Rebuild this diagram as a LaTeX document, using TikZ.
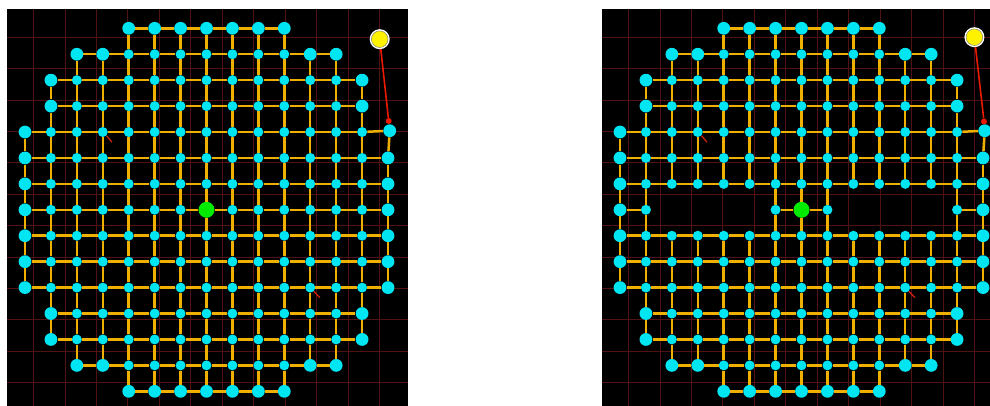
\documentclass[tikz,border=0pt]{standalone}
\usetikzlibrary{calc}
\definecolor{nodecyan}{RGB}{0,229,242}
\definecolor{edgeorange}{RGB}{240,176,0}
\definecolor{gridred}{RGB}{80,18,18}
\definecolor{centergreen}{RGB}{0,235,0}
\definecolor{cursoryellow}{RGB}{255,242,0}
\definecolor{springred}{RGB}{235,25,0}
\definecolor{tickred}{RGB}{205,35,10}
\pgfdeclarelayer{bg}
\pgfdeclarelayer{edges}
\pgfsetlayers{bg,edges,main}
\def\padrows{{99,4,2,1,1,0,0,0,0,0,0,0,1,1,2,4,99}}
\def\holeexpr#1#2#3{(((#3)==1)&&((#2)==7)&&((((#1)>=2)&&((#1)<=5))||(((#1)>=9)&&((#1)<=12))))}
\newcommand\latticenodes[3]{%
 \foreach \j in {0,...,14}{%
   \pgfmathtruncatemacro\jo{\j}%
   \pgfmathtruncatemacro\jp{\j+1}%
   \pgfmathtruncatemacro\jq{\j+2}%
   \pgfmathtruncatemacro\mn{\padrows[\jp]}%
   \pgfmathtruncatemacro\mup{\padrows[\jo]}%
   \pgfmathtruncatemacro\mdn{\padrows[\jq]}%
   \pgfmathtruncatemacro\mx{14-\mn}%
   \foreach \i in {\mn,...,\mx}{%
     \pgfmathtruncatemacro\dd{min(\i,14-\i)}%
     \pgfmathtruncatemacro\isbig{(\dd==\mn)||(\mup>\dd)||(\mdn>\dd)}%
     \pgfmathtruncatemacro\ishole{\holeexpr{\i}{\j}{#3}}%
     \pgfmathtruncatemacro\iscenter{(\i==7)&&(\j==7)}%
     \pgfmathtruncatemacro\isdrag{(\i==14)&&(\j==4)}%
     \pgfmathsetmacro\px{#2+25+25.93*\i+1.7*\isdrag}%
     \pgfmathsetmacro\py{28.3+25.93*\j-1.3*\isdrag}%
     \ifnum\ishole=0
       \ifnum\iscenter=1
         \node[centernode] (#1-\i-\j) at (\px,\py) {};
       \else\ifnum\isbig=1
         \node[bignode] (#1-\i-\j) at (\px,\py) {};
       \else
         \node[smallnode] (#1-\i-\j) at (\px,\py) {};
       \fi\fi
     \fi
   }%
 }%
}
\newcommand\latticeedges[2]{%
 \foreach \j in {0,...,14}{%
   \pgfmathtruncatemacro\jp{\j+1}%
   \pgfmathtruncatemacro\jq{\j+2}%
   \pgfmathtruncatemacro\mn{\padrows[\jp]}%
   \pgfmathtruncatemacro\mx{13-\mn}%
   \foreach \i in {\mn,...,\mx}{%
     \pgfmathtruncatemacro\inext{\i+1}%
     \pgfmathtruncatemacro\skipit{\holeexpr{\i}{\j}{#2}||\holeexpr{\inext}{\j}{#2}}%
     \ifnum\skipit=0 \draw[edge] (#1-\i-\j) -- (#1-\inext-\j); \fi
   }%
   \ifnum\j<14
     \pgfmathtruncatemacro\ma{\padrows[\jp]}%
     \pgfmathtruncatemacro\mb{\padrows[\jq]}%
     \pgfmathtruncatemacro\mv{max(\ma,\mb)}%
     \pgfmathtruncatemacro\mw{14-\mv}%
     \pgfmathtruncatemacro\nj{\j+1}%
     \foreach \i in {\mv,...,\mw}{%
       \pgfmathtruncatemacro\skipit{\holeexpr{\i}{\j}{#2}||\holeexpr{\i}{\nj}{#2}}%
       \ifnum\skipit=0 \draw[edge] (#1-\i-\j) -- (#1-\i-\nj); \fi
     }%
   \fi
 }%
}
\begin{document}
\begin{tikzpicture}[x=1pt,y=-1pt,
  smallnode/.style={circle,fill=nodecyan,inner sep=0pt,minimum size=10pt},
  bignode/.style={circle,fill=nodecyan,inner sep=0pt,minimum size=12.8pt},
  centernode/.style={circle,fill=centergreen,inner sep=0pt,minimum size=16pt},
  edge/.style={draw=edgeorange,line width=2.5pt},
  gridline/.style={draw=gridred,line width=0.9pt},
  cursor/.style={circle,fill=cursoryellow,draw=white,line width=1.5pt,inner sep=0pt,minimum size=18.5pt},
  pin/.style={circle,fill=springred,inner sep=0pt,minimum size=6pt},
  spring/.style={draw=springred,line width=1.6pt},
  tickmark/.style={draw=tickred,line width=1.3pt}]
\useasboundingbox (0,0) rectangle (990,406);
\begin{pgfonlayer}{bg}
  \fill[white] (0,0) rectangle (990,406);
  \fill[black] (7,9) rectangle (408,406);
  \fill[black] (602,9) rectangle (990,406);
  \foreach \k in {0,...,11}{
    \draw[gridline] ({33.5+31.46*\k},9) -- ({33.5+31.46*\k},406);
    \draw[gridline] (7,{37.3+31.4*\k}) -- (408,{37.3+31.4*\k});
    \draw[gridline] ({628.5+31.46*\k},9) -- ({628.5+31.46*\k},406);
    \draw[gridline] (602,{37.3+31.4*\k}) -- (990,{37.3+31.4*\k});
  }
\end{pgfonlayer}
\latticenodes{L}{0}{0}
\latticenodes{R}{595}{1}
\begin{pgfonlayer}{edges}
  \latticeedges{L}{0}
  \latticeedges{R}{1}
\end{pgfonlayer}
% small red marks
\draw[tickmark] (L-3-4.south east) -- ++(5.5,6.5);
\draw[tickmark] (L-11-10.south east) -- ++(6,6.5);
\draw[tickmark] (R-3-4.south east) -- ++(5.5,6.5);
\draw[tickmark] (R-11-10.south east) -- ++(6,6.5);
% cursors and springs
\node[pin] (pinL) at (388.7,121) {};
\node[cursor] (curL) at (379.7,39.2) {};
\draw[spring] (curL) -- (pinL);
\draw[gray,line width=0.5pt] (curL) circle (8.3pt);
\node[pin] (pinR) at (984,121.5) {};
\node[cursor] (curR) at (974.4,37.2) {};
\draw[spring] (curR) -- (pinR);
\draw[gray,line width=0.5pt] (curR) circle (8.3pt);
\end{tikzpicture}
\end{document}
